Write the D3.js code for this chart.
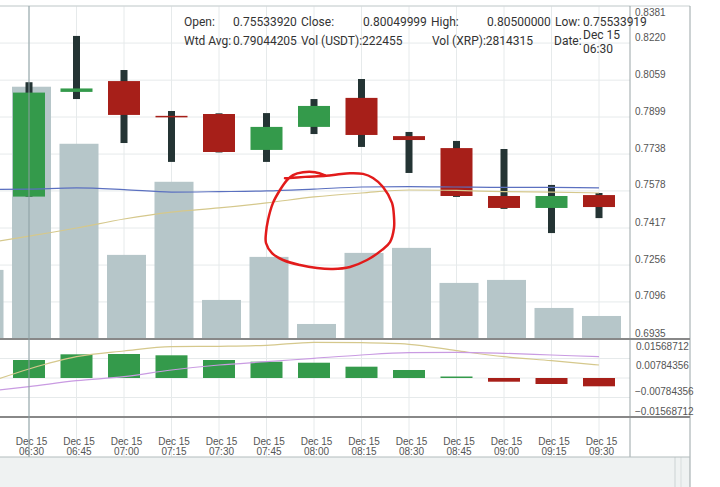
<!DOCTYPE html>
<html>
<head>
<meta charset="utf-8">
<script src="https://cdn.jsdelivr.net/npm/d3@7"></script>
<style>
  body { margin: 0; background: #fff; }
  svg { display: block; }
  .tip { font-family: Roboto, "Liberation Sans", sans-serif; font-size: 12px; fill: #333; }
  .ax { font-family: "Liberation Sans", Arial, sans-serif; font-size: 10px; fill: #555; }
</style>
</head>
<body>
<div id="chart"></div>
<script>
// slot 0 is the 06:15 candle, just off the left edge
const times = ['06:15', '06:30', '06:45', '07:00', '07:15', '07:30', '07:45', '08:00', '08:15', '08:30', '08:45', '09:00', '09:15', '09:30'];
const opens  = [null, 0.75533920, 0.8008, 0.8055, 0.7904, 0.7912, 0.7756, 0.7856, 0.7982, 0.7816, 0.7764, 0.7556, 0.7504, 0.7560];
const highs  = [null, 0.80500000, 0.8251, 0.8103, 0.7925, 0.7915, 0.7916, 0.7977, 0.8064, 0.7834, 0.7795, 0.7760, 0.7604, 0.7569];
const lows   = [null, 0.75533919, 0.7977, 0.7786, 0.7704, 0.7745, 0.7704, 0.7825, 0.7769, 0.7656, 0.7552, 0.7500, 0.7395, 0.7460];
const closes = [null, 0.80049999, 0.8023, 0.7908, 0.7900, 0.7747, 0.7856, 0.7947, 0.7821, 0.7799, 0.7556, 0.7504, 0.7556, 0.7508];
const volumes = [770800, 2814315, 2178000, 938400, 1753900, 435700, 916000, 167600, 960700, 1016600, 625600, 659100, 346300, 256900];
const maSlow = [0.7584, 0.7586, 0.7591, 0.7584, 0.7573, 0.7575, 0.7578, 0.7586, 0.7595, 0.7597, 0.7595, 0.7593, 0.7593, 0.7591];
const maFast = [0.7348, 0.7382, 0.7417, 0.7456, 0.7486, 0.7504, 0.7526, 0.7552, 0.7569, 0.7582, 0.7580, 0.7575, 0.7573, 0.7569];
const macd   = [-0.0028, 0.00362, 0.00857, 0.01086, 0.01259, 0.01275, 0.01315, 0.01436, 0.0142, 0.01356, 0.01098, 0.00857, 0.00696, 0.00523];
const signal = [-0.00563, -0.0035, -0.00109, 0.00052, 0.00322, 0.00523, 0.00656, 0.00792, 0.00925, 0.01018, 0.01034, 0.00994, 0.00925, 0.00857];
const hist   = [0.00283, 0.00724, 0.00953, 0.00965, 0.00913, 0.00724, 0.00656, 0.00615, 0.00455, 0.00322, 0.0006, -0.00149, -0.00241, -0.00334];
const priceTicks = [0.6935, 0.7096, 0.7256, 0.7417, 0.7578, 0.7738, 0.7899, 0.8059, 0.8220, 0.8381];
const macdTicks = [0.01568712, 0.00784356, -0.00784356, -0.01568712];
// hand drawn red loop, in [slot, price]
const scribble = [[6.389, 0.7633], [6.811, 0.7639], [7.253, 0.7644], [7.484, 0.7649], [7.758, 0.7655], [8.032, 0.7652],
  [8.242, 0.7634], [8.453, 0.7595], [8.642, 0.7526], [8.684, 0.7465], [8.684, 0.7417], [8.600, 0.7356], [8.432, 0.7322],
  [8.116, 0.7278], [7.758, 0.7248], [7.400, 0.7239], [7.063, 0.7243], [6.705, 0.7256], [6.347, 0.7278], [6.116, 0.7308],
  [5.989, 0.7352], [5.989, 0.7395], [6.032, 0.7452], [6.137, 0.7526], [6.284, 0.7582], [6.432, 0.7625], [6.558, 0.7647],
  [6.768, 0.7659], [7.021, 0.7659], [7.232, 0.7645]];

const W = 720, H = 487;
const topY = 6, plotR = 630, frameR = 690, priceB = 339, macdB = 417, axisB = 457;
const colors = { UP: '#349a4b', DOWN: '#a71f19', WICK: '#243434', VOL: '#b6c6c9', GRID: '#e6eaeb' };

const svg = d3.select('#chart').append('svg').attr('width', W).attr('height', H);

const x = d3.scaleLinear().domain([1, 13]).range([29, 599]);
const y = d3.scaleLinear().domain([0.6935, 0.8381]).range([priceB, topY]);
const yVol = d3.scaleLinear().domain([0, d3.max(volumes) * 1.32]).range([priceB, topY]);
const yM = d3.scaleLinear().domain([-0.01568712, 0.01568712]).range([macdB, priceB]);

// bottom toolbar strip
svg.append('rect').attr('x', 0).attr('y', axisB).attr('width', frameR).attr('height', H - axisB).attr('fill', '#eff2f2');
svg.append('line').attr('x1', 675).attr('x2', 675).attr('y1', axisB).attr('y2', H).attr('stroke', '#ccd3d4');
svg.append('line').attr('x1', 681).attr('x2', 681).attr('y1', axisB).attr('y2', H).attr('stroke', '#d8dddd');

const gGrid = svg.append('g');
const slots = d3.range(1, 14);
gGrid.selectAll('.vg').data(slots).join('line')
  .attr('x1', d => x(d)).attr('x2', d => x(d))
  .attr('y1', topY).attr('y2', axisB)
  .attr('stroke', colors.GRID);
gGrid.selectAll('.hg').data(priceTicks).join('line')
  .attr('x1', 0).attr('x2', plotR)
  .attr('y1', d => y(d)).attr('y2', d => y(d))
  .attr('stroke', colors.GRID);
gGrid.selectAll('.mg').data([0.00784356, 0, -0.00784356]).join('line')
  .attr('x1', 0).attr('x2', plotR)
  .attr('y1', d => yM(d)).attr('y2', d => yM(d))
  .attr('stroke', colors.GRID);

const idx = d3.range(times.length);

// volume
svg.append('g').selectAll('rect').data(idx).join('rect')
  .attr('x', i => x(i) + 2.5 - 19.5)
  .attr('width', 39)
  .attr('y', i => yVol(volumes[i]))
  .attr('height', i => priceB - yVol(volumes[i]))
  .attr('fill', colors.VOL);

// candles
const candles = idx.filter(i => opens[i] !== null);
const gC = svg.append('g');
gC.selectAll('.wick').data(candles).join('rect')
  .attr('x', i => x(i) - 3.5).attr('width', 7)
  .attr('y', i => y(highs[i]))
  .attr('height', i => Math.max(1, y(lows[i]) - y(highs[i])))
  .attr('fill', colors.WICK);
gC.selectAll('.body').data(candles).join('rect')
  .attr('x', i => x(i) - 16).attr('width', 32)
  .attr('y', i => y(Math.max(opens[i], closes[i])))
  .attr('height', i => Math.max(1.5, Math.abs(y(opens[i]) - y(closes[i]))))
  .attr('fill', i => closes[i] >= opens[i] ? colors.UP : colors.DOWN);

// moving averages
const lineOf = (arr, scale) => d3.line().x((d, i) => x(i)).y(d => scale(d)).curve(d3.curveMonotoneX)(arr);
svg.append('path').attr('d', lineOf(maFast, y)).attr('fill', 'none').attr('stroke', '#d5c88c').attr('stroke-width', 1.2);
svg.append('path').attr('d', lineOf(maSlow, y)).attr('fill', 'none').attr('stroke', '#5b70c0').attr('stroke-width', 1.2);

// macd histogram + lines
svg.append('g').selectAll('rect').data(idx).join('rect')
  .attr('x', i => x(i) - 16).attr('width', 32)
  .attr('y', i => Math.min(yM(hist[i]), yM(0)))
  .attr('height', i => Math.max(1.2, Math.abs(yM(hist[i]) - yM(0))))
  .attr('fill', i => hist[i] >= 0 ? colors.UP : colors.DOWN);
svg.append('path').attr('d', lineOf(macd, yM)).attr('fill', 'none').attr('stroke', '#d5c88c').attr('stroke-width', 1.2);
svg.append('path').attr('d', lineOf(signal, yM)).attr('fill', 'none').attr('stroke', '#c99be2').attr('stroke-width', 1.2);

// red annotation
svg.append('path')
  .attr('d', d3.line().x(d => x(d[0])).y(d => y(d[1])).curve(d3.curveCatmullRom)(scribble))
  .attr('fill', 'none').attr('stroke', '#e21b1b').attr('stroke-width', 2.5).attr('stroke-linecap', 'round');

// frame
const frame = svg.append('g').attr('stroke', '#9aa5a7');
frame.append('line').attr('x1', 0).attr('x2', frameR).attr('y1', topY).attr('y2', topY).attr('stroke', '#c9d0d1');
frame.append('line').attr('x1', plotR).attr('x2', plotR).attr('y1', topY).attr('y2', axisB);
frame.append('line').attr('x1', frameR).attr('x2', frameR).attr('y1', topY).attr('y2', H);
frame.append('line').attr('x1', 0).attr('x2', frameR).attr('y1', priceB).attr('y2', priceB).attr('stroke', '#888').attr('stroke-width', 2);
frame.append('line').attr('x1', 0).attr('x2', frameR).attr('y1', macdB).attr('y2', macdB).attr('stroke', '#888').attr('stroke-width', 2);
frame.append('line').attr('x1', 0).attr('x2', frameR).attr('y1', axisB).attr('y2', axisB).attr('stroke', '#b3bcbd');

// price axis
const pAxis = svg.append('g').attr('transform', `translate(${plotR},0)`)
  .call(d3.axisRight(y).tickValues(priceTicks).tickFormat(d3.format('.4f')).tickSize(0));
pAxis.select('.domain').remove();
pAxis.selectAll('text').attr('class', 'ax').attr('x', 5).attr('dy', null)
  .attr('y', d => Math.max(y(d) - 3, 15) - y(d));

// macd axis
const mAxis = svg.append('g').attr('transform', `translate(${plotR},0)`)
  .call(d3.axisRight(yM).tickValues(macdTicks).tickFormat(d3.format('.8f')).tickSize(0));
mAxis.select('.domain').remove();
mAxis.selectAll('text').attr('class', 'ax').attr('dy', null)
  .attr('x', d => d > 0 ? 6 : 5)
  .attr('y', d => d > 0 ? 10 : -3);

// time axis
const tAxis = svg.append('g').attr('transform', `translate(2,${macdB})`)
  .call(d3.axisBottom(x).tickValues(slots).tickFormat(i => times[i]).tickSize(0));
tAxis.select('.domain').remove();
tAxis.selectAll('text').each(function(i) {
  const t = d3.select(this).attr('class', 'ax').attr('dy', null).attr('y', 0).text(null);
  t.append('tspan').attr('x', 0).attr('y', 28).text('Dec 15');
  t.append('tspan').attr('x', 0).attr('y', 38).text(times[i]);
});

// crosshair on the 06:30 candle
svg.append('line').attr('x1', x(1)).attr('x2', x(1)).attr('y1', topY).attr('y2', axisB)
  .attr('stroke', '#8b9ea2');

// tooltip
const tip = svg.append('g');
const tipText = [
  ['Open:', 184, 25.5], ['0.75533920', 233, 25.5], ['Close:', 301, 25.5], ['0.80049999', 363, 25.5],
  ['High:', 431, 25.5], ['0.80500000', 487, 25.5], ['Low:', 555, 25.5], ['0.75533919', 583, 25.5],
  ['Wtd Avg:', 184, 45], ['0.79044205', 233, 45], ['Vol (USDT):222455', 301, 45],
  ['Vol (XRP):2814315', 432, 45], ['Date:', 554, 45], ['Dec 15', 583, 39], ['06:30', 583, 52.5]
];
tip.selectAll('text').data(tipText).join('text')
  .attr('class', 'tip')
  .attr('x', d => d[1]).attr('y', d => d[2])
  .text(d => d[0]);
</script>
</body>
</html>
